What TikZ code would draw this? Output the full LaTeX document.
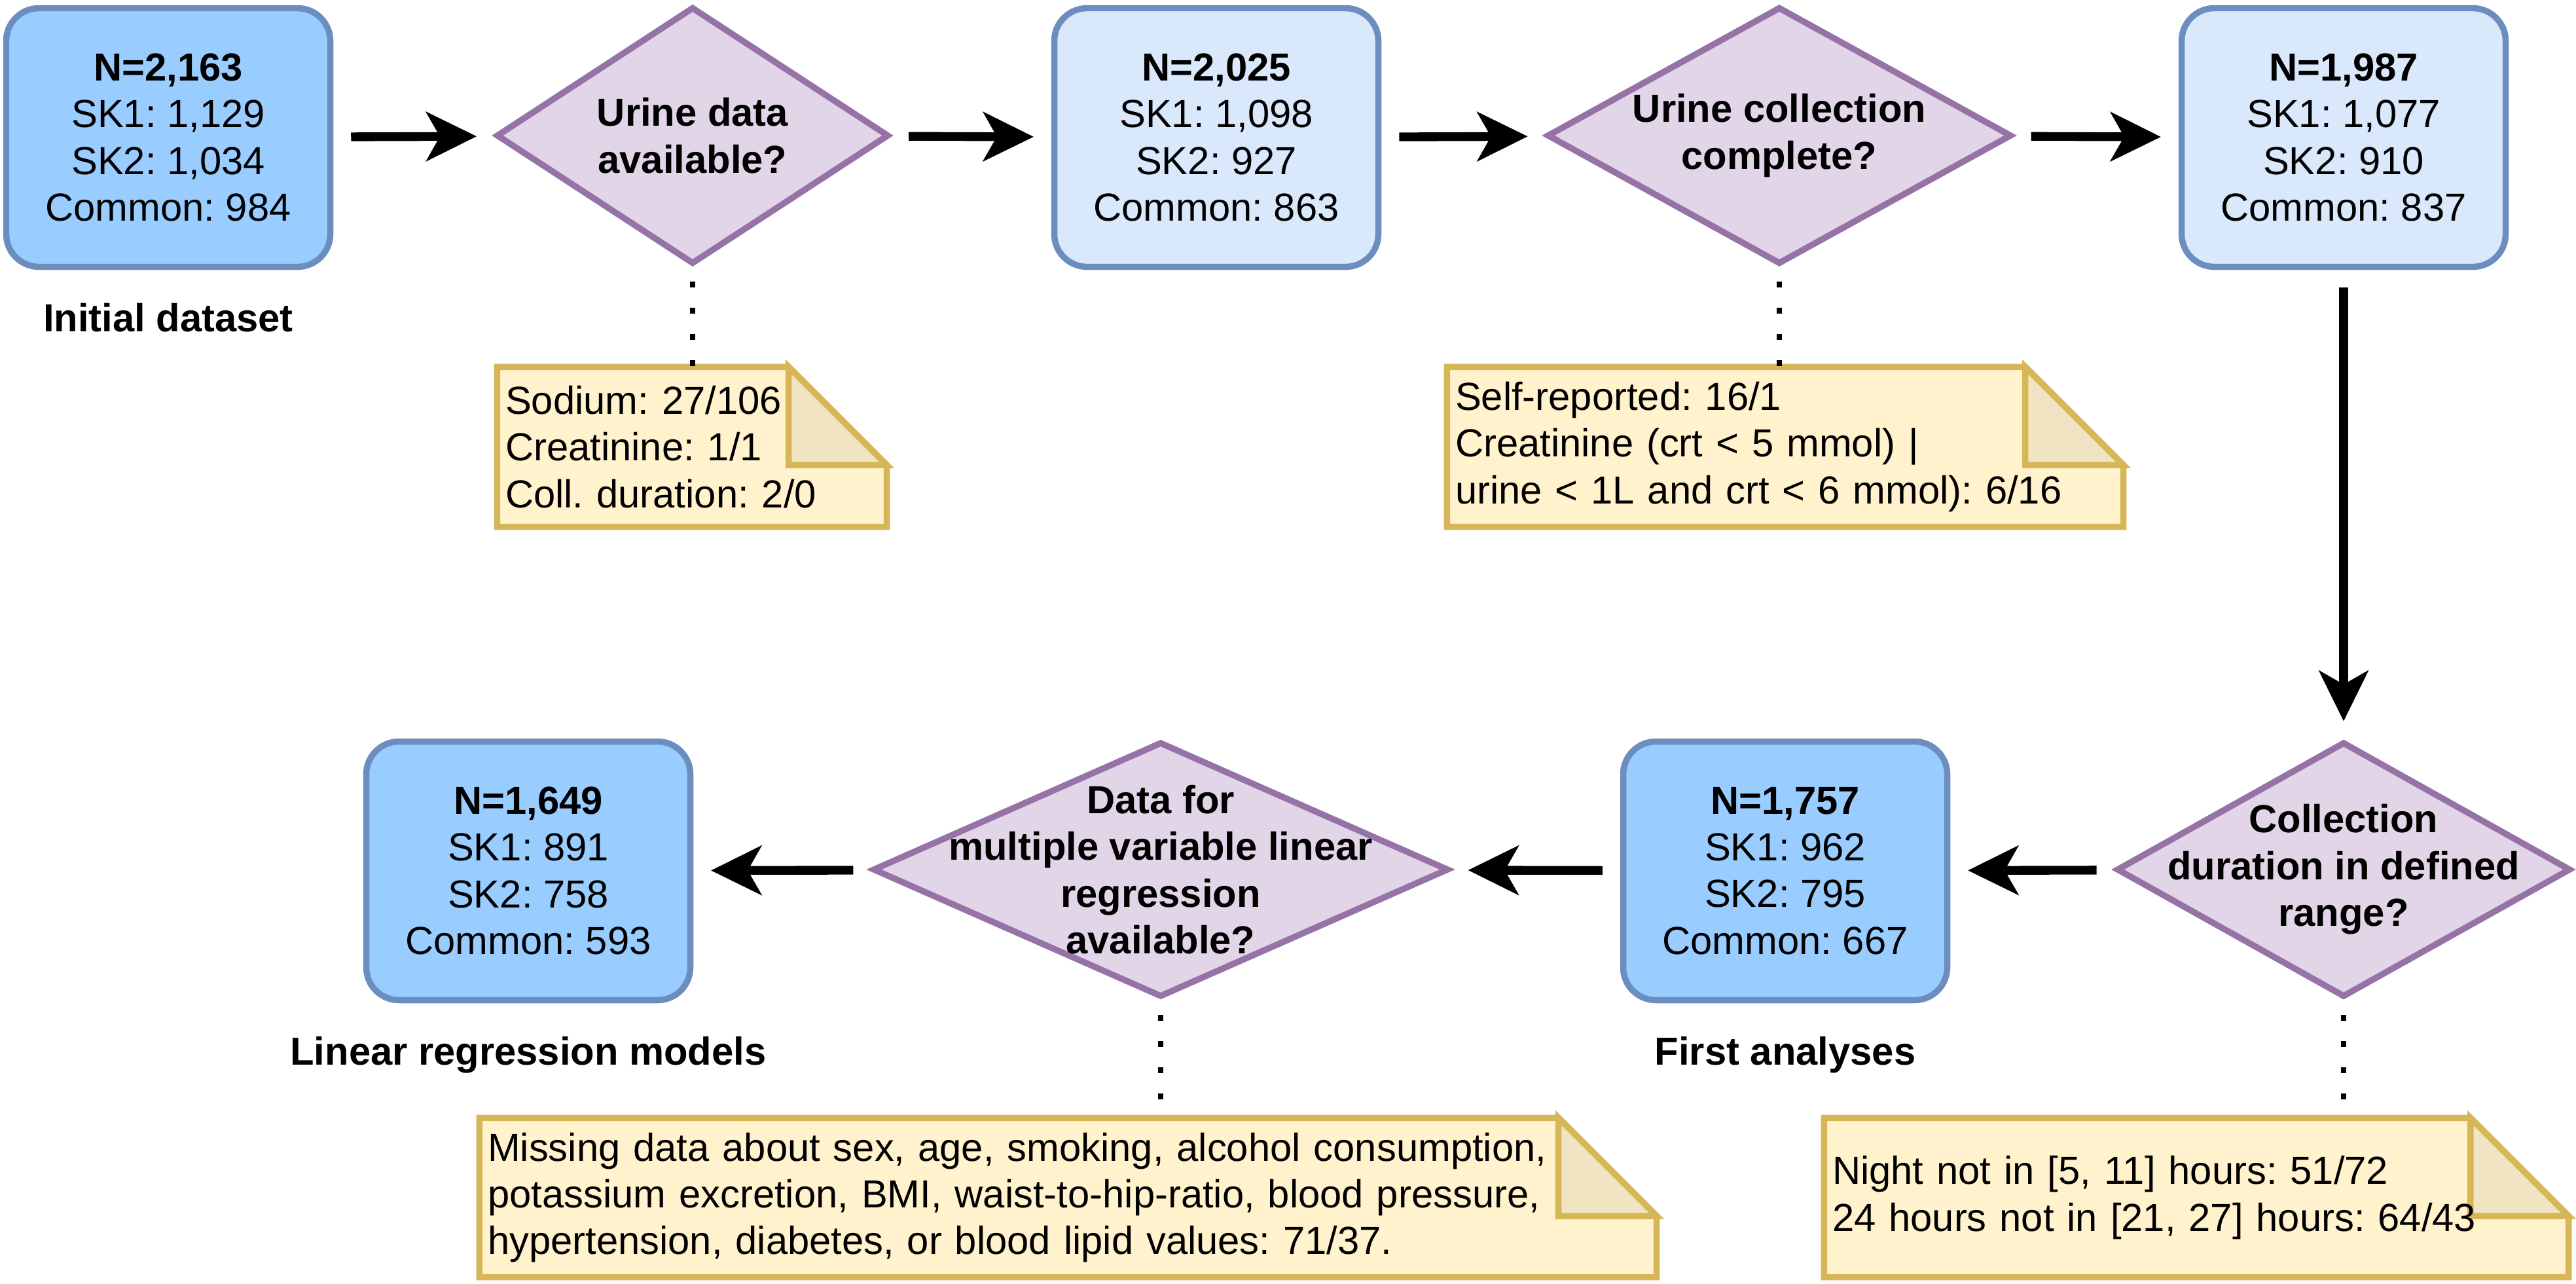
\documentclass[tikz,border=0pt]{standalone}
\usepackage{fontspec}
\setmainfont{Liberation Sans}
\usetikzlibrary{shapes.geometric, arrows.meta, backgrounds}
\frenchspacing

\definecolor{dkfill}{HTML}{99CCFF}
\definecolor{ltfill}{HTML}{DAE8FC}
\definecolor{bluedraw}{HTML}{6C8EBF}
\definecolor{qfill}{HTML}{E1D5E7}
\definecolor{qdraw}{HTML}{9673A6}
\definecolor{notefill}{HTML}{FFF2CC}
\definecolor{notedraw}{HTML}{D6B656}
\definecolor{foldfill}{HTML}{F1E4C2}

\begin{document}
\begin{tikzpicture}[
		font=\fontsize{17pt}{20.3pt}\selectfont,
		>={Stealth[length=7.8mm, width=7.7mm, inset=2.2mm, line width=0pt]},
		box/.style={draw=bluedraw, line width=2.7pt, rectangle, rounded corners=0.5cm, minimum width=4.95cm, minimum height=3.95cm, align=center, inner sep=0pt},
		question/.style={draw=qdraw, fill=qfill, line width=2.7pt, diamond, inner sep=0pt},
		qtext/.style={font=\fontsize{17pt}{20.3pt}\selectfont\bfseries, align=center, inner sep=0pt},
		note/.style={rectangle, inner xsep=0.12cm, inner ysep=0pt, align=left},
		flow/.style={->, line width=3.8pt, shorten <=0.27cm, shorten >=0.27cm},
		dots/.style={line width=0.08cm, dash pattern=on 0.09cm off 0.31cm, shorten <=0.22cm},
		caption/.style={font=\fontsize{17pt}{20.3pt}\selectfont\bfseries, text height=12.4pt, text depth=3.6pt, inner sep=0pt}
	]
	\useasboundingbox (0, 0) rectangle (39.35, -19.6);

	% upper row
	\node[box, fill=dkfill] (N1)at(2.57, -2.1) {\textbf{N=2,163}\\SK1: 1,129\\SK2: 1,034\\Common: 984};
	\node[question, minimum width=6.0cm, minimum height=3.93cm, label={[qtext]center:{Urine data\\available?}}] (Q1)at(10.58, -2.07) {};
	\node[box, fill=ltfill] (N2)at(18.58, -2.1) {\textbf{N=2,025}\\SK1: 1,098\\SK2: 927\\Common: 863};
	\node[question, minimum width=7.1cm, minimum height=3.93cm, label={[qtext]center:{Urine collection\\complete?}}] (Q2)at(27.18, -2.07) {};
	\node[box, fill=ltfill] (N3)at(35.80, -2.1) {\textbf{N=1,987}\\SK1: 1,077\\SK2: 910\\Common: 837};

	% lower row
	\node[question, minimum width=6.94cm, minimum height=3.9cm, label={[qtext]center:{Collection\\duration in defined\\range?}}] (Q3)at(35.80, -13.28) {};
	\node[box, fill=dkfill] (N4)at(27.27, -13.3) {\textbf{N=1,757}\\SK1: 962\\SK2: 795\\Common: 667};
	\node[question, minimum width=8.8cm, minimum height=3.9cm, label={[qtext]center:{Data for\\multiple variable linear\\regression\\available?}}] (Q4)at(17.73, -13.28) {};
	\node[box, fill=dkfill] (N5)at(8.07, -13.3) {\textbf{N=1,649}\\SK1: 891\\SK2: 758\\Common: 593};

	\node[caption] (L1)at(2.57, -4.91) {Initial dataset};
	\node[caption] (L4)at(27.27, -16.11) {First analyses};
	\node[caption] (L5)at(8.07, -16.11) {Linear regression models};

	% notes
	\node[note, text width=5.70cm, minimum height=2.43cm] (R1)at(10.57, -6.825) {Sodium: 27/106\\Creatinine: 1/1\\Coll. duration: 2/0};
	\node[note, text width=10.08cm, minimum height=2.43cm] (R2)at(27.27, -6.825) {Self-reported: 16/1\\Creatinine (crt < 5 mmol) |\\urine < 1L and crt < 6 mmol): 6/16};
	\node[note, text width=17.73cm, minimum height=2.42cm] (R3)at(16.315, -18.29) {Missing data about sex, age, smoking, alcohol consumption,\\potassium excretion, BMI, waist-to-hip-ratio, blood pressure,\\hypertension, diabetes, or blood lipid values: 71/37.};
	\node[note, text width=11.12cm, minimum height=2.42cm] (R4)at(33.55, -18.29) {Night not in [5, 11] hours: 51/72\\24 hours not in [21, 27] hours: 64/43};

	\begin{scope}[on background layer]
		\foreach \nt in {R1, R2, R3, R4} {
			\filldraw[fill=notefill, draw=notedraw, line width=2.7pt] (\nt.south west) -- (\nt.north west) -- ([xshift=-1.5cm]\nt.north east) -- ([yshift=-1.5cm]\nt.north east) -- (\nt.south east) -- cycle;
			\filldraw[fill=foldfill, draw=notedraw, line width=2.7pt] ([xshift=-1.5cm]\nt.north east) -- ([xshift=-1.5cm, yshift=-1.5cm]\nt.north east) -- ([yshift=-1.5cm]\nt.north east) -- cycle;
		}
	\end{scope}

	% connectors
	\draw[flow] (N1) -- (Q1);
	\draw[flow] (Q1) -- (N2);
	\draw[flow] (N2) -- (Q2);
	\draw[flow] (Q2) -- (N3);
	\draw[flow] (N3) -- (Q3);
	\draw[flow] (Q3) -- (N4);
	\draw[flow] (N4) -- (Q4);
	\draw[flow] (Q4) -- (N5);

	\draw[dots] (Q1.south) -- (Q1.south |- R1.north);
	\draw[dots] (Q2.south) -- (Q2.south |- R2.north);
	\draw[dots] (Q3.south) -- (Q3.south |- R4.north);
	\draw[dots] (Q4.south) -- (Q4.south |- R3.north);
\end{tikzpicture}
\end{document}
